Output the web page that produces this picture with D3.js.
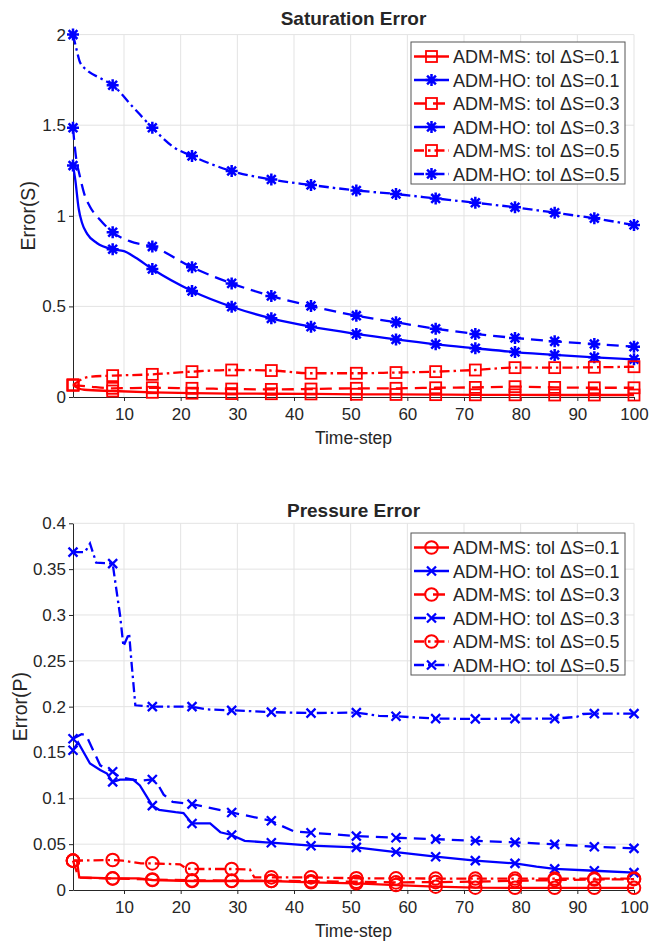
<!DOCTYPE html>
<html lang="en">
<head>
<meta charset="UTF-8">
<title>Saturation and Pressure Error</title>
<script src="https://d3js.org/d3.v7.min.js"></script>
<style>
  body { margin: 0; background: #fff; }
  text { font-family: "Liberation Sans", Arial, Helvetica, sans-serif; fill: #262626; }
</style>
</head>
<body>
<div id="chart-container"></div>
<script>
// time steps that carry a marker
const markerSteps = [1, 8, 15, 22, 29, 36, 43, 51, 58, 65, 72, 79, 86, 93, 100];
const seriesNames = ["ADM-MS: tol ΔS=0.1", "ADM-HO: tol ΔS=0.1", "ADM-MS: tol ΔS=0.3",
                     "ADM-HO: tol ΔS=0.3", "ADM-MS: tol ΔS=0.5", "ADM-HO: tol ΔS=0.5"];
const stepTicks = [10, 20, 30, 40, 50, 60, 70, 80, 90, 100];

// saturation error, [time-step, error]
const satMS01 = [[1,0.066],[2,0.047],[3,0.040],[8,0.033],[15,0.026],[22,0.021],[29,0.019],[36,0.018],[43,0.017],
  [51,0.015],[58,0.014],[65,0.013],[72,0.012],[79,0.012],[86,0.011],[93,0.011],[100,0.011]];
const satHO01 = [[1,1.277],[1.4,1.2],[2,1.04],[2.6,0.96],[3.5,0.9],[5.2,0.85],[8,0.815],[10,0.805],[12,0.77],
  [15,0.706],[22,0.585],[29,0.498],[36,0.434],[43,0.388],[51,0.348],[58,0.318],[65,0.291],[72,0.269],[79,0.248],
  [86,0.232],[93,0.219],[100,0.208]];
const satMS03 = [[1,0.066],[4,0.057],[8,0.048],[15,0.051],[22,0.048],[29,0.044],[36,0.042],[43,0.044],[51,0.048],
  [58,0.048],[65,0.051],[72,0.053],[79,0.057],[86,0.053],[93,0.051],[100,0.051]];
const satHO03 = [[1,1.486],[1.5,1.33],[2.2,1.22],[3,1.12],[4,1.05],[5.8,0.977],[8,0.909],[11,0.86],[15,0.83],
  [22,0.716],[29,0.627],[36,0.557],[43,0.502],[51,0.449],[58,0.412],[65,0.377],[72,0.348],[79,0.326],[86,0.307],
  [93,0.292],[100,0.278]];
const satMS05 = [[1,0.066],[2.5,0.097],[4,0.112],[8,0.118],[15,0.125],[22,0.14],[29,0.149],[36,0.146],[43,0.131],
  [51,0.131],[58,0.135],[65,0.14],[72,0.149],[79,0.162],[86,0.162],[93,0.164],[100,0.167]];
const satHO05 = [[1,2.0],[1.65,1.915],[2.2,1.85],[3.4,1.805],[5.8,1.76],[8,1.72],[11.6,1.60],[15,1.486],[18.7,1.38],
  [22,1.33],[29,1.247],[36,1.20],[43,1.17],[51,1.14],[58,1.12],[65,1.096],[72,1.072],[79,1.047],[86,1.017],
  [93,0.986],[100,0.949]];
const satTicks = [0, 0.5, 1, 1.5, 2];

// pressure error
const presMS01 = [[1,0.032],[1.7,0.032],[2.1,0.0138],[8,0.0127],[12.6,0.0127],[15,0.0109],[22,0.0098],[29,0.0098],
  [36,0.0098],[43,0.0084],[51,0.0073],[58,0.0054],[65,0.0036],[72,0.0025],[79,0.0024],[86,0.0024],[93,0.0024],[100,0.0024]];
const presHO01 = [[1,0.1525],[1.9,0.161],[4,0.138],[5.8,0.131],[7,0.127],[8,0.118],[9.3,0.1205],[11.6,0.1205],
  [12.8,0.114],[15,0.092],[16.2,0.0875],[19.1,0.085],[20.5,0.084],[22,0.0726],[25.2,0.0726],[27,0.063],[29,0.06],
  [31.3,0.0536],[35,0.052],[36,0.0516],[43,0.0483],[51,0.0465],[55,0.0436],[58,0.0414],[65,0.0363],[72,0.032],
  [79,0.029],[82.8,0.0254],[86,0.023],[93,0.021],[100,0.0189]];
const presMS03 = [[1,0.032],[2,0.0135],[8,0.0125],[15,0.0115],[22,0.0105],[29,0.0102],[36,0.010],[43,0.0096],
  [51,0.0090],[58,0.0083],[65,0.0086],[72,0.0092],[79,0.0100],[86,0.0108],[93,0.0114],[100,0.0118]];
const presHO03 = [[1,0.165],[2.5,0.17],[3.3,0.169],[5.8,0.136],[8,0.129],[9.3,0.123],[12.8,0.119],[15,0.1206],
  [16,0.115],[17,0.104],[18.6,0.096],[22,0.0937],[29,0.0846],[36,0.0755],[37.5,0.0708],[40,0.064],[43,0.0625],
  [51,0.0588],[58,0.057],[65,0.0555],[72,0.0537],[79,0.052],[86,0.0498],[93,0.0472],[100,0.0454]];
const presMS05 = [[1,0.032],[8,0.0327],[9.8,0.032],[13,0.029],[15,0.029],[19.9,0.028],[21,0.0235],[22,0.0229],
  [29,0.0229],[32.2,0.0225],[33,0.0138],[36,0.0138],[43,0.0138],[51,0.0128],[58,0.0127],[65,0.0125],[72,0.0125],
  [79,0.0125],[86,0.0125],[93,0.0125],[100,0.0125]];
const presHO05 = [[1,0.3685],[3.1,0.3685],[4,0.378],[5.1,0.357],[8,0.356],[8.6,0.33],[9.3,0.30],[9.9,0.266],
  [10.9,0.28],[11.3,0.25],[12,0.2015],[15,0.2],[22,0.2],[24.6,0.197],[29,0.196],[36,0.194],[43,0.193],[51,0.1935],
  [55,0.19],[58,0.1895],[65,0.187],[72,0.1866],[79,0.187],[86,0.187],[89.9,0.1888],[91,0.192],[93,0.1924],[100,0.1924]];
const presTicks = [0, 0.05, 0.1, 0.15, 0.2, 0.25, 0.3, 0.35, 0.4];

const red = "#ff0000", blue = "#0000ff";
const dashes = [null, "12,7", "10,4,2.5,4"];

const svg = d3.select("#chart-container")
    .append("svg")
    .attr("width", 664)
    .attr("height", 943)
    .style("display", "block");

svg.append("rect").attr("width", 664).attr("height", 943).attr("fill", "#fff");

// marker shapes
function drawMarker(g, kind, cx, cy, color) {
    if (kind === "square") {
        g.append("rect").attr("x", cx - 5.5).attr("y", cy - 5.5).attr("width", 11).attr("height", 11)
            .attr("fill", "none").attr("stroke", color).attr("stroke-width", 1.8);
    } else if (kind === "circle") {
        g.append("circle").attr("cx", cx).attr("cy", cy).attr("r", 6.3)
            .attr("fill", "none").attr("stroke", color).attr("stroke-width", 2);
    } else if (kind === "x") {
        const s = 4.5;
        g.append("path").attr("d", `M${cx-s},${cy-s}L${cx+s},${cy+s}M${cx-s},${cy+s}L${cx+s},${cy-s}`)
            .attr("stroke", color).attr("stroke-width", 2.3).attr("fill", "none");
    } else {
        const s = 6, d = 4.4;
        g.append("path")
            .attr("d", `M${cx-s},${cy}L${cx+s},${cy}M${cx},${cy-s}L${cx},${cy+s}` +
                       `M${cx-d},${cy-d}L${cx+d},${cy+d}M${cx-d},${cy+d}L${cx+d},${cy-d}`)
            .attr("stroke", color).attr("stroke-width", 2.5).attr("fill", "none");
    }
}

function drawPanel(p) {
    const x = d3.scaleLinear().domain([1, 100]).range([p.left, p.right]);
    const y = d3.scaleLinear().domain(p.yDomain).range([p.bottom, p.top]);
    const g = svg.append("g");

    // grid
    g.append("g").selectAll("line").data(stepTicks).join("line")
        .attr("x1", d => x(d)).attr("x2", d => x(d)).attr("y1", p.top).attr("y2", p.bottom)
        .attr("stroke", "#e3e3e3").attr("stroke-width", 1);
    g.append("g").selectAll("line").data(p.yTicks.slice(1)).join("line")
        .attr("x1", p.left).attr("x2", p.right).attr("y1", d => y(d)).attr("y2", d => y(d))
        .attr("stroke", "#e3e3e3").attr("stroke-width", 1);

    // axes
    const xAxis = g.append("g")
        .attr("transform", `translate(0,${p.bottom})`)
        .call(d3.axisBottom(x).tickValues(stepTicks).tickSize(4).tickSizeOuter(0).tickPadding(7));
    const yAxis = g.append("g")
        .attr("transform", `translate(${p.left},0)`)
        .call(d3.axisLeft(y).tickValues(p.yTicks).tickFormat(d => String(d)).tickSize(4).tickSizeOuter(0).tickPadding(3));
    [xAxis, yAxis].forEach(a => {
        a.select(".domain").attr("stroke", "#262626");
        a.selectAll(".tick line").attr("stroke", "#262626");
        a.selectAll("text").attr("font-size", 17).attr("fill", "#262626")
            .style("font-family", "'Liberation Sans', Arial, sans-serif");
    });

    // titles
    g.append("text").attr("x", (p.left + p.right) / 2).attr("y", p.titleY)
        .attr("text-anchor", "middle").attr("font-weight", "bold").attr("font-size", 19)
        .attr("fill", "#000").text(p.title);
    g.append("text").attr("x", (p.left + p.right) / 2).attr("y", p.bottom + 47)
        .attr("text-anchor", "middle").attr("font-size", 17.5).text("Time-step");
    g.append("text").attr("transform", `translate(${p.yLabelX},${(p.top + p.bottom) / 2}) rotate(-90)`)
        .attr("text-anchor", "middle").attr("font-size", 19.5).text(p.yLabel);

    const line = d3.line().x(d => x(d[0])).y(d => y(d[1])).curve(p.curve);

    p.series.forEach((s, i) => {
        const color = i % 2 === 0 ? red : blue;
        const dash = dashes[Math.floor(i / 2)];
        const kind = i % 2 === 0 ? p.msMarker : p.hoMarker;
        g.append("path").datum(s)
            .attr("d", line)
            .attr("fill", "none").attr("stroke", color).attr("stroke-width", 2.3)
            .attr("stroke-dasharray", dash);
        const mg = g.append("g");
        s.filter(d => markerSteps.includes(d[0]))
            .forEach(d => drawMarker(mg, kind, x(d[0]), y(d[1]), color));
    });

    // legend
    const lg = g.append("g");
    const rowH = 23.5;
    lg.append("rect").attr("x", 411).attr("y", p.legendTop).attr("width", 214).attr("height", rowH * 6 + 1)
        .attr("fill", "#fff").attr("stroke", "#555").attr("stroke-width", 1);
    seriesNames.forEach((name, i) => {
        const cy = p.legendTop + 14.5 + i * rowH;
        const color = i % 2 === 0 ? red : blue;
        lg.append("line").attr("x1", 414).attr("x2", 449).attr("y1", cy).attr("y2", cy)
            .attr("stroke", color).attr("stroke-width", 2.3).attr("stroke-dasharray", dashes[Math.floor(i / 2)]);
        drawMarker(lg, i % 2 === 0 ? p.msMarker : p.hoMarker, 431.5, cy, color);
        lg.append("text").attr("x", 453).attr("y", cy + 6.5).attr("font-size", 18).attr("fill", "#000").text(name);
    });
}

drawPanel({
    title: "Saturation Error", yLabel: "Error(S)", yLabelX: 35,
    left: 73, right: 634, top: 34.6, bottom: 397, titleY: 25, legendTop: 42,
    yDomain: [0, 2], yTicks: satTicks, curve: d3.curveMonotoneX,
    series: [satMS01, satHO01, satMS03, satHO03, satMS05, satHO05],
    msMarker: "square", hoMarker: "star"
});

drawPanel({
    title: "Pressure Error", yLabel: "Error(P)", yLabelX: 27,
    left: 73, right: 634, top: 523.3, bottom: 890, titleY: 517, legendTop: 533,
    yDomain: [0, 0.4], yTicks: presTicks, curve: d3.curveLinear,
    series: [presMS01, presHO01, presMS03, presHO03, presMS05, presHO05],
    msMarker: "circle", hoMarker: "x"
});
</script>
</body>
</html>
